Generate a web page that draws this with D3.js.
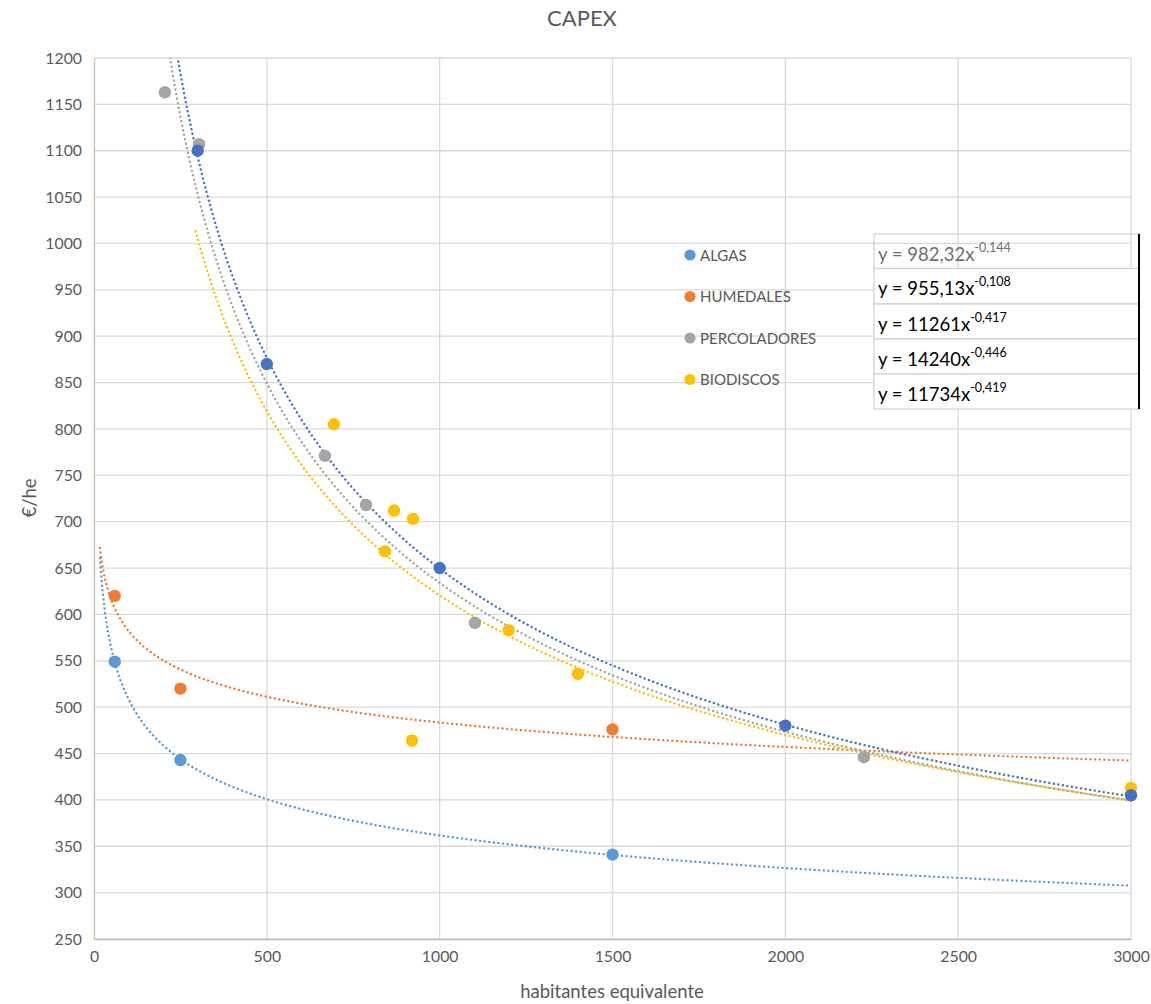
<!DOCTYPE html>
<html>
<head>
<meta charset="utf-8">
<script src="https://cdn.jsdelivr.net/npm/d3@7"></script>
<style>
  body { margin: 0; background: #fff; }
  svg { display: block; font-family: Lato, "Open Sans", sans-serif; }
</style>
</head>
<body>
<svg id="chart" width="1151" height="1004"></svg>
<script>
// ---- data ----
const xTickValues = [0, 500, 1000, 1500, 2000, 2500, 3000];
const yTickValues = [250, 300, 350, 400, 450, 500, 550, 600, 650, 700, 750, 800, 850, 900, 950, 1000, 1050, 1100, 1150, 1200];

const legendNames = ["ALGAS", "HUMEDALES", "PERCOLADORES", "BIODISCOS"];

const algasX = [60, 250, 1500];
const algasY = [549, 443, 341];

const humedalesX = [60, 250, 1500];
const humedalesY = [620, 520, 476];

const percoladoresX = [205, 304, 668, 787, 1102, 2227];
const percoladoresY = [1163, 1107, 771, 718, 591, 446];

const biodiscosX = [694, 842, 868, 923, 920, 1200, 1400, 3000];
const biodiscosY = [805, 668, 712, 703, 464, 583, 536, 413];

// fifth series (no legend entry)
const serie5X = [300, 500, 1000, 2000, 3000];
const serie5Y = [1100, 870, 650, 480, 405];

// trendline equation labels, in box order
const eqCoef = ["982,32", "955,13", "11261", "14240", "11734"];
const eqExp = ["-0,144", "-0,108", "-0,417", "-0,446", "-0,419"];

(function () {
  const colors = ["#5B9BD5", "#ED7D31", "#A5A5A5", "#FFC000", "#4472C4"];
  const series = [
    { name: legendNames[0], xs: algasX, ys: algasY, color: colors[0] },
    { name: legendNames[1], xs: humedalesX, ys: humedalesY, color: colors[1] },
    { name: legendNames[2], xs: percoladoresX, ys: percoladoresY, color: colors[2] },
    { name: legendNames[3], xs: biodiscosX, ys: biodiscosY, color: colors[3] },
    { name: null, xs: serie5X, ys: serie5Y, color: colors[4] }
  ];

  const svg = d3.select("#chart");
  const pL = 94, pR = 1131, pT = 58, pB = 939;
  const x = d3.scaleLinear().domain([0, 3000]).range([pL, pR]);
  const y = d3.scaleLinear().domain([250, 1200]).range([pB, pT]);
  const textGrey = "#595959";
  const font = "Lato, 'Open Sans', sans-serif";

  // title
  svg.append("text").attr("x", 582).attr("y", 25.5).attr("text-anchor", "middle")
    .attr("font-size", 22).attr("fill", textGrey).text("CAPEX");

  // gridlines
  const grid = svg.append("g").attr("stroke", "#d9d9d9").attr("stroke-width", 1.3);
  grid.selectAll("line.h").data(yTickValues).join("line").attr("class", "h")
    .attr("x1", pL).attr("x2", pR).attr("y1", d => y(d)).attr("y2", d => y(d));
  grid.selectAll("line.v").data(xTickValues.slice(1)).join("line").attr("class", "v")
    .attr("y1", pT).attr("y2", pB).attr("x1", d => x(d)).attr("x2", d => x(d));

  // axes
  const yAxis = svg.append("g").attr("transform", `translate(${pL},0)`)
    .call(d3.axisLeft(y).tickValues(yTickValues).tickSize(0).tickPadding(12).tickFormat(d3.format("d")));
  const xAxis = svg.append("g").attr("transform", `translate(0,${pB})`)
    .call(d3.axisBottom(x).tickValues(xTickValues).tickSize(0).tickPadding(12).tickFormat(d3.format("d")));
  [yAxis, xAxis].forEach(g => {
    g.select(".domain").attr("stroke", "#bfbfbf").attr("stroke-width", 1.3);
    g.selectAll("text").attr("font-family", font).attr("font-size", 15.8).attr("fill", textGrey);
  });

  // axis titles
  svg.append("text").attr("x", 612).attr("y", 998).attr("text-anchor", "middle")
    .attr("font-size", 18.5).attr("fill", textGrey).text("habitantes equivalente");
  svg.append("text").attr("transform", "translate(36,498) rotate(-90)").attr("text-anchor", "middle")
    .attr("font-size", 18.5).attr("fill", textGrey).text("€/he");

  // clip to plot area
  svg.append("clipPath").attr("id", "plot").append("rect")
    .attr("x", pL).attr("y", pT).attr("width", pR - pL).attr("height", pB - pT);

  // power trendlines: least squares fit of ln(y) on ln(x)
  function powerFit(xs, ys) {
    const lx = xs.map(Math.log), ly = ys.map(Math.log);
    const mx = d3.mean(lx), my = d3.mean(ly);
    const b = d3.sum(lx, (v, i) => (v - mx) * (ly[i] - my)) / d3.sum(lx, v => (v - mx) * (v - mx));
    const a = Math.exp(my - b * mx);
    return v => a * Math.pow(v, b);
  }
  const backcast = 400, minStart = 17, xEnd = 3000;
  const line = d3.line().x(d => x(d[0])).y(d => y(d[1]));
  const trends = svg.append("g").attr("clip-path", "url(#plot)");
  series.forEach(s => {
    const f = powerFit(s.xs, s.ys);
    const x0 = Math.max(d3.min(s.xs) - backcast, minStart);
    const steps = 400;
    const pts = d3.range(steps + 1).map(i => {
      const xv = x0 + (xEnd - x0) * i / steps;
      return [xv, f(xv)];
    });
    trends.append("path").attr("d", line(pts)).attr("fill", "none")
      .attr("stroke", s.color).attr("stroke-width", 2.4)
      .attr("stroke-linecap", "round").attr("stroke-dasharray", "0.1 4.5");
  });

  // markers
  series.forEach(s => {
    svg.append("g").selectAll("circle").data(s.xs).join("circle")
      .attr("cx", d => x(d)).attr("cy", (d, i) => y(s.ys[i])).attr("r", 6.2)
      .attr("fill", s.color);
  });

  // legend
  const legend = svg.append("g");
  series.filter(s => s.name).forEach((s, i) => {
    const ly = 255 + i * 41.5;
    legend.append("circle").attr("cx", 690).attr("cy", ly).attr("r", 5.6).attr("fill", s.color);
    legend.append("text").attr("x", 700).attr("y", ly + 5.5).attr("font-size", 15)
      .attr("fill", textGrey).text(s.name);
  });

  // equation labels
  const boxL = 874, boxR = 1139;
  const rowEdges = [234, 268.5, 304, 339, 374, 409];
  const baselines = [261, 295, 331, 366, 401];
  const eq = svg.append("g");
  eqCoef.forEach((c, i) => {
    eq.append("rect").attr("x", boxL).attr("y", rowEdges[i]).attr("width", boxR - boxL)
      .attr("height", rowEdges[i + 1] - rowEdges[i])
      .attr("fill", i === 0 ? "none" : "#fff").attr("stroke", "#d0d0d0").attr("stroke-width", 1.2);
  });
  eqCoef.forEach((c, i) => {
    const t = eq.append("text").attr("x", 878).attr("y", baselines[i]).attr("font-size", 18.5)
      .attr("fill", i === 0 ? "#6f6f6f" : "#000");
    t.append("tspan").text(`y = ${c}x`);
    t.append("tspan").attr("dy", -9.5).attr("font-size", 12.5).text(eqExp[i]);
  });
  eq.append("line").attr("x1", boxR).attr("x2", boxR).attr("y1", 234).attr("y2", 409)
    .attr("stroke", "#000").attr("stroke-width", 2);
})();
</script>
</body>
</html>
